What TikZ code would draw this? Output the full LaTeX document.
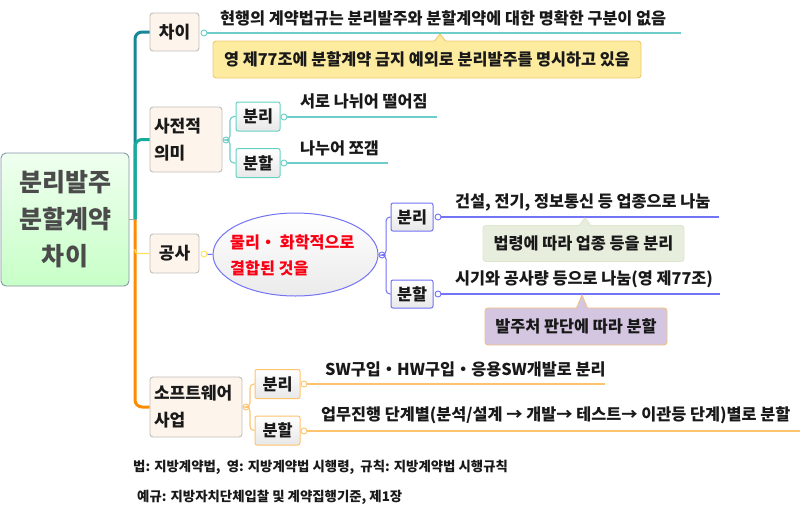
\documentclass[tikz,border=0pt]{standalone}
\usepackage{fontspec}
\setmainfont{Noto Sans CJK KR}
\usetikzlibrary{shapes.geometric,calc}
\definecolor{tealA}{RGB}{22,135,150}
\definecolor{tealB}{RGB}{20,172,155}
\definecolor{tealL}{RGB}{110,205,200}
\definecolor{tealN}{RGB}{100,210,195}
\definecolor{orgA}{RGB}{255,140,0}
\definecolor{orgL}{RGB}{255,195,110}
\definecolor{yel}{RGB}{255,225,90}
\definecolor{blu}{RGB}{115,115,245}
\definecolor{l1fill}{RGB}{253,244,236}
\definecolor{l1draw}{RGB}{195,190,185}
\definecolor{rootdraw}{RGB}{135,150,165}
\definecolor{callY}{RGB}{253,236,160}
\definecolor{callYd}{RGB}{240,200,110}
\definecolor{callG}{RGB}{232,238,222}
\definecolor{callGd}{RGB}{222,230,208}
\definecolor{callP}{RGB}{212,198,224}
\definecolor{callPd}{RGB}{240,195,130}
\definecolor{txt}{RGB}{25,25,25}
\definecolor{roottxt}{RGB}{75,75,75}
\definecolor{redtxt}{RGB}{250,0,20}
\tikzset{
  rootbox/.style={draw=rootdraw, line width=0.9pt, rounded corners=5pt, top color=green!6, bottom color=green!22,
    minimum width=128, minimum height=133, inner sep=0, align=center, text=roottxt,
    font=\fontsize{25}{37}\selectfont\bfseries},
  lone/.style={draw=l1draw, fill=l1fill, line width=0.9pt, rounded corners=3pt, inner sep=0,
    text=txt, font=\fontsize{17}{27}\selectfont\bfseries},
  ltwo/.style={rounded corners=2pt, line width=1pt, top color=white, bottom color=gray!18, inner sep=0,
    minimum width=44, minimum height=29, text=txt, font=\fontsize{16.3}{18}\selectfont\bfseries},
  topic/.style={anchor=west, inner sep=0, text=txt, font=\fontsize{16.3}{18}\selectfont\bfseries},
  callout/.style={rounded corners=3pt, line width=0.9pt, inner sep=0, text=txt,
    font=\fontsize{16.3}{18}\selectfont\bfseries},
  dotm/.style={circle, draw, fill=white, inner sep=0, minimum size=6pt, line width=0.9pt},
  foot/.style={anchor=west, inner sep=0, text=txt, font=\fontsize{13.4}{15}\selectfont\bfseries},
}
\begin{document}
\begin{tikzpicture}[x=1pt,y=-1pt]
\useasboundingbox (0,0) rectangle (800,514);
\fill[white] (0,0) rectangle (800,514);

% root
\node[rootbox] (root) at (65,219.5) {분리발주\\분할계약\\차이};
\coordinate (tr) at (135,219.5);

% level 1 nodes
\node[lone, minimum width=49, minimum height=38] (n1) at (174.5,32) {차이};
\node[lone, minimum width=72, minimum height=65, align=left, text width=64] (n2) at (186,139.5) {사전적\\의미};
\node[lone, minimum width=49, minimum height=39] (n3) at (174.5,253.5) {공사};
\node[lone, minimum width=92, minimum height=60, align=left, text width=84] (n4) at (196,407) {소프트웨어\\사업};

% trunk
\draw[tealA, line width=3pt, rounded corners=7pt] (tr) |- (n1.west);
\draw[tealB, line width=3pt, rounded corners=7pt] (tr) |- (n2.west);
\draw[orgA, line width=3pt, rounded corners=7pt] (tr) |- (n4.west);
\draw[yel, line width=1.3pt, rounded corners=3pt] (135,249) |- (n3.west);
\draw[gray!70, line width=1pt] (root.east) -- (tr);

% ---- 차이
\coordinate (e0) at (681,33);
\node[dotm, draw=tealL] (m1) at (204,33) {};
\draw[tealL, line width=1.2pt] (m1) -- (e0);
\node[topic] (t0) at (220,18) {현행의 계약법규는 분리발주와 분할계약에 대한 명확한 구분이 없음};
\node[callout, fill=callY, draw=callYd, minimum width=428, minimum height=37] (cy) at (427,59.5) {영 제77조에 분할계약 금지 예외로 분리발주를 명시하고 있음};
\fill[callY] (434.5,42) -- (440,34) -- (445.5,42) -- cycle;
\draw[callYd, line width=0.9pt] (434.5,41) -- (440,34) -- (445.5,41);

% ---- 사전적 의미
\node[ltwo, draw=tealN] (a1) at (258,116.5) {분리};
\node[ltwo, draw=tealN] (a2) at (258,163) {분할};
\node[dotm, draw=tealL] (m2) at (226,140) {};
\draw[tealL, line width=1.1pt, rounded corners=4pt] (m2.east) -- (230,140) |- (a1.west);
\draw[tealL, line width=1.1pt, rounded corners=4pt] (m2.east) -- (230,140) |- (a2.west);
\coordinate (e1) at (437,117);
\coordinate (e2) at (388,163);
\node[dotm, draw=tealL] (m3) at (284,117) {};
\node[dotm, draw=tealL] (m4) at (284,163) {};
\draw[tealL, line width=1.2pt] (m3) -- (e1);
\draw[tealL, line width=1.2pt] (m4) -- (e2);
\node[topic] (t1) at (300,101) {서로 나뉘어 떨어짐};
\node[topic] (t2) at (300,148) {나누어 쪼갬};

% ---- 공사
\node[dotm, draw=yel] (m5) at (204,254) {};
\node[ellipse, draw=blu, line width=1pt, top color=white, bottom color=gray!16, minimum width=165, minimum height=83, inner sep=0] (el) at (295.5,254.5) {};
\node[anchor=west, inner sep=0, align=left, text=redtxt, font=\fontsize{16.2}{26}\selectfont\bfseries] (et) at (230,255) {물리・ 화학적으로\\결합된 것을};
\draw[blu, line width=1pt] (m5) -- (el.west);
\node[ltwo, draw=blu, minimum width=42, minimum height=28] (b1) at (412,217) {분리};
\node[ltwo, draw=blu, minimum width=42, minimum height=28] (b2) at (412,294) {분할};
\node[dotm, draw=blu] (m6) at (382,255) {};
\draw[blu, line width=1pt, rounded corners=4pt] (m6.east) -- (386,255) |- (b1.west);
\draw[blu, line width=1pt, rounded corners=4pt] (m6.east) -- (386,255) |- (b2.west);
\coordinate (e3) at (719,217);
\coordinate (e4) at (720,294);
\node[dotm, draw=blu] (m7) at (438,217) {};
\node[dotm, draw=blu] (m8) at (438,294) {};
\draw[blu, line width=1.2pt] (m7) -- (e3);
\draw[blu, line width=1.2pt] (m8) -- (e4);
\node[topic] (t3) at (455,202) {건설, 전기, 정보통신 등 업종으로 나눔};
\node[topic] (t4) at (455,279) {시기와 공사량 등으로 나눔(영 제77조)};
\node[callout, fill=callG, draw=callGd, minimum width=201, minimum height=36] (cg) at (583.5,243.5) {법령에 따라 업종 등을 분리};
\fill[callG] (579.5,226) -- (585,218) -- (590.5,226) -- cycle;
\draw[callGd, line width=0.9pt] (579.5,225) -- (585,218) -- (590.5,225);
\node[callout, fill=callP, draw=callPd, minimum width=182, minimum height=37] (cp) at (576,326.5) {발주처 판단에 따라 분할};
\fill[callP] (576.5,309) -- (582,295) -- (587.5,309) -- cycle;
\draw[callPd, line width=0.9pt] (576.5,308) -- (582,295) -- (587.5,308);

% ---- 소프트웨어 사업
\node[ltwo, draw=orgL, minimum width=45] (c1) at (277.5,384) {분리};
\node[ltwo, draw=orgL, minimum width=45] (c2) at (277.5,430.5) {분할};
\node[dotm, draw=orgL] (m9) at (246,407) {};
\draw[orgL, line width=1.1pt, rounded corners=4pt] (m9.east) -- (250,407) |- (c1.west);
\draw[orgL, line width=1.1pt, rounded corners=4pt] (m9.east) -- (250,407) |- (c2.west);
\coordinate (e5) at (605,384);
\coordinate (e6) at (800,431);
\node[dotm, draw=orgL] (m10) at (304,384) {};
\node[dotm, draw=orgL] (m11) at (304,431) {};
\draw[orgL, line width=1.2pt] (m10) -- (e5);
\draw[orgL, line width=1.2pt] (m11) -- (e6);
\node[topic] (t5) at (325,369) {SW구입・HW구입・응용SW개발로 분리};
\node[topic] (t6) at (321,415) {업무진행 단계별(분석/설계 → 개발→ 테스트→ 이관등 단계)별로 분할};

% footer
\node[foot] (f1) at (133,467) {법: 지방계약법,\ \ 영: 지방계약법 시행령,\ \ 규칙: 지방계약법 시행규칙};
\node[foot] (f2) at (137,497) {예규: 지방자치단체입찰 및 계약집행기준, 제1장};
\end{tikzpicture}
\end{document}
